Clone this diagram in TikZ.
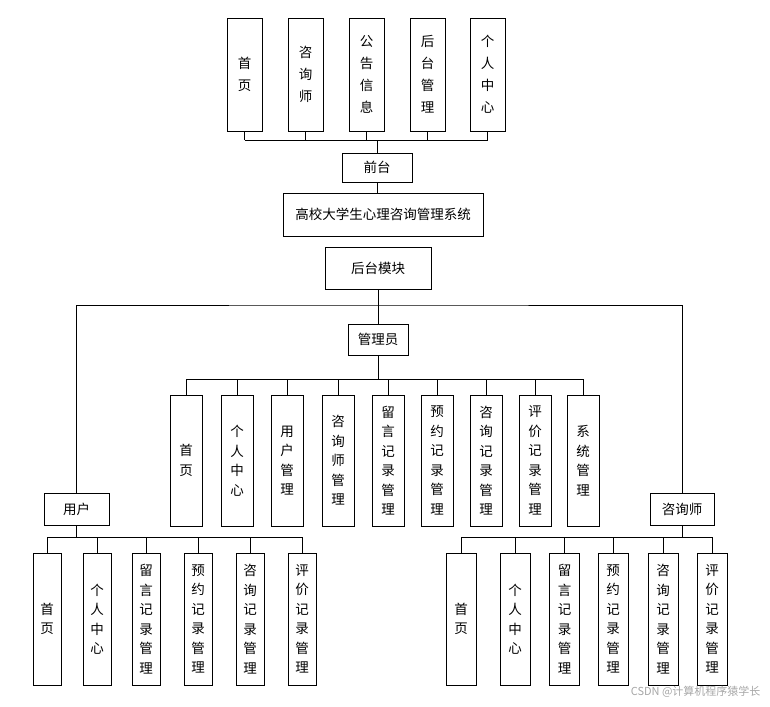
\documentclass[tikz,border=0pt]{standalone}
\usepackage{fontspec}
\setmainfont{Noto Sans CJK SC}
\usetikzlibrary{positioning}
\tikzset{
  box/.style={draw, line width=0.8pt, inner sep=0pt, align=center, font=\fontsize{13.5}{19.5}\selectfont},
  tall/.style={box, minimum width=#1, text width=#1},
  link/.style={line width=0.8pt}
}
\begin{document}
\begin{tikzpicture}[x=1pt, y=-1pt]
  \useasboundingbox (0,0) rectangle (770,706);

  % top level
  \node[tall=35pt, minimum height=113pt, font=\fontsize{13.5}{22}\selectfont] (t1) at (244.5,74.5) {首\\页};
  \node[tall=35pt, minimum height=113pt, font=\fontsize{13.5}{22}\selectfont] (t2) at (305.5,74.5) {咨\\询\\师};
  \node[tall=35pt, minimum height=113pt, font=\fontsize{13.5}{22}\selectfont] (t3) at (366.5,74.5) {公\\告\\信\\息};
  \node[tall=35pt, minimum height=113pt, font=\fontsize{13.5}{22}\selectfont] (t4) at (427.5,74.5) {后\\台\\管\\理};
  \node[tall=35pt, minimum height=113pt, font=\fontsize{13.5}{22}\selectfont] (t5) at (487.5,74.5) {个\\人\\中\\心};
  \node[box, minimum width=70pt, minimum height=29pt] (front) at (377,167.5) {前台};
  \node[box, minimum width=200pt, minimum height=43pt] (sys) at (383,214.5) {高校大学生心理咨询管理系统};
  \node[box, minimum width=106pt, minimum height=42pt] (back) at (378,268) {后台模块};
  \coordinate (busT) at (377,140);
  \foreach \n in {t1,t2,t3,t4,t5} \draw[link] (\n.south) -- (\n.south |- busT);
  \draw[link] (t1.south |- busT) -- (t5.south |- busT);
  \draw[link] (front.north) -- (front.north |- busT);
  \draw[link] (front.south) -- (front.south |- sys.north);

  % back end
  \node[box, minimum width=60pt, minimum height=31pt] (admin) at (378,339.5) {管理员};
  \node[box, minimum width=65pt, minimum height=32pt] (user) at (76.5,509) {用户};
  \node[box, minimum width=64pt, minimum height=32pt] (cons) at (682,509) {咨询师};
  \coordinate (split) at (378,305);
  \draw[link] (back.south) -- (split);
  \draw[link] (split) -- (admin.north);
  \draw[link] (user.north) |- (split) -| (cons.north);

  % admin modules
  \coordinate (busA) at (378,379);
  \foreach \n/\x/\t in {a1/186/首\\页, a2/237/个\\人\\中\\心, a3/287/用\\户\\管\\理,
      a4/338/咨\\询\\师\\管\\理, a5/388/留\\言\\记\\录\\管\\理, a6/437/预\\约\\记\\录\\管\\理,
      a7/486/咨\\询\\记\\录\\管\\理, a8/535/评\\价\\记\\录\\管\\理, a9/583/系\\统\\管\\理} {
    \node[tall=32pt, minimum height=131pt] (\n) at (\x,460.5) {\t};
    \draw[link] (\n.north) -- (\n.north |- busA);
  }
  \draw[link] (a1.north |- busA) -- (a9.north |- busA);
  \draw[link] (admin.south) -- (busA);

  % user modules
  \coordinate (busU) at (77,537);
  \foreach \n/\x/\t in {u1/47/首\\页, u2/97/个\\人\\中\\心, u3/146/留\\言\\记\\录\\管\\理,
      u4/198/预\\约\\记\\录\\管\\理, u5/250/咨\\询\\记\\录\\管\\理, u6/302/评\\价\\记\\录\\管\\理} {
    \node[tall=28pt, minimum height=132pt] (\n) at (\x,619) {\t};
    \draw[link] (\n.north) -- (\n.north |- busU);
  }
  \draw[link] (u1.north |- busU) -- (u6.north |- busU);
  \draw[link] (user.south) -- (user.south |- busU);

  % counsellor modules
  \coordinate (busC) at (682,537);
  \foreach \n/\x/\t in {c1/461/首\\页, c2/515/个\\人\\中\\心, c3/564.5/留\\言\\记\\录\\管\\理,
      c4/613/预\\约\\记\\录\\管\\理, c5/663/咨\\询\\记\\录\\管\\理, c6/712/评\\价\\记\\录\\管\\理} {
    \node[tall=30pt, minimum height=132pt] (\n) at (\x,619) {\t};
    \draw[link] (\n.north) -- (\n.north |- busC);
  }
  \draw[link] (c1.north |- busC) -- (c6.north |- busC);
  \draw[link] (cons.south) -- (cons.south |- busC);

  \node[anchor=east, text=gray!70, font=\fontsize{11}{12}\selectfont] (mark) at (764,692) {CSDN @计算机程序猿学长};
\end{tikzpicture}
\end{document}
